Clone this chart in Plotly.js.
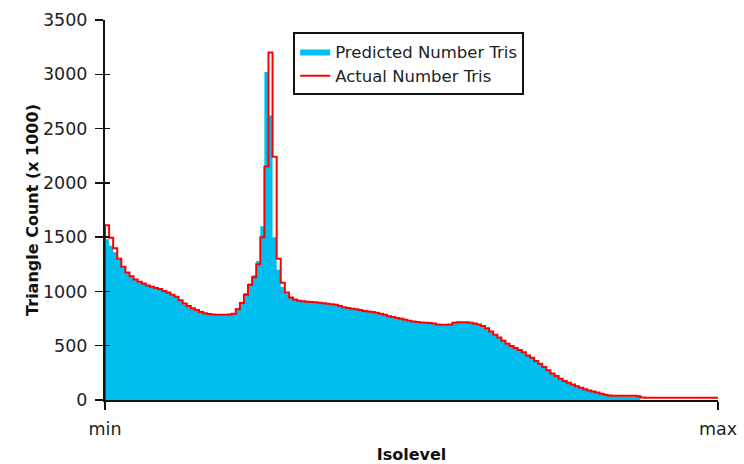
<!DOCTYPE html>
<html>
<head>
<meta charset="utf-8">
<script src="https://cdn.plot.ly/plotly-3.0.1.min.js"></script>
<style>html,body{margin:0;padding:0;background:#fff;}#chart{width:744px;height:464px;}</style>
</head>
<body>
<div id="chart"></div>
<script>
// Isolevel bins from min to max (150 equal bins)
const binCount = 150;
const tickLabels = ['min', 'max'];

// Actual Number Tris (x 1000), one value per bin
const actualTris = [
  1610,1495,1398,1300,1228,1175,1140,1110,1090,1072,
  1055,1042,1032,1022,1005,990,970,950,918,888,
  865,846,828,810,800,792,787,785,785,785,
  787,795,835,893,970,1060,1130,1250,1500,2150,
  3200,2240,1300,1080,990,945,925,915,910,906,
  903,900,895,890,886,882,877,865,855,848,
  840,835,828,820,815,810,803,795,785,772,
  765,755,748,738,730,722,718,714,712,710,
  705,695,692,692,695,712,715,715,715,712,
  705,695,682,660,630,600,575,545,518,498,
  478,460,440,410,388,360,335,305,275,245,
  220,195,175,158,142,127,113,100,88,78,
  68,58,48,42,40,40,40,40,40,38,
  35,22,20,20,20,20,20,20,20,20,
  20,20,20,20,20,20,20,20,20,20
];

// Predicted Number Tris (x 1000), one value per bin
const predictedTris = [
  1480,1420,1360,1290,1220,1170,1135,1105,1085,1068,
  1050,1038,1028,1018,1000,985,965,945,913,883,
  860,842,824,806,796,788,783,781,781,781,
  783,800,845,905,985,1075,1150,1280,1600,3020,
  2620,1500,1200,1040,980,940,920,910,905,902,
  899,896,891,886,882,878,873,861,851,844,
  836,831,824,816,811,806,799,791,781,768,
  761,751,744,734,726,718,714,710,708,706,
  701,691,688,688,691,708,711,711,711,708,
  701,691,678,656,626,596,571,541,514,494,
  474,456,436,406,384,356,331,301,271,241,
  216,191,171,154,138,123,109,96,84,74,
  64,54,44,38,35,35,35,35,32,30,
  28,0,0,0,0,0,0,0,0,0,
  0,0,0,0,0,0,0,0,0,0
];

const edges = [];
for (let i = 0; i <= binCount; i++) edges.push(i);
const stepY = arr => arr.concat([arr[arr.length - 1]]);

const FONT = 'DejaVu Sans, Verdana, sans-serif';

const traces = [
  {
    name: 'Predicted Number Tris',
    x: edges, y: stepY(predictedTris),
    type: 'scatter', mode: 'lines',
    line: {shape: 'hv', width: 0, color: '#00BFEF'},
    fill: 'tozeroy', fillcolor: '#00BFEF',
    hoverinfo: 'skip'
  },
  {
    name: 'Actual Number Tris',
    x: [edges[0]].concat(edges), y: [0].concat(stepY(actualTris)),
    type: 'scatter', mode: 'lines',
    line: {shape: 'hv', width: 2, color: '#FF0000'},
    xaxis: 'x2', yaxis: 'y2',
    hoverinfo: 'skip'
  }
];

const axisCommon = {
  showgrid: false, zeroline: false, fixedrange: true
};

const layout = {
  width: 744, height: 464,
  margin: {l: 105, r: 26, t: 20, b: 64},
  paper_bgcolor: '#fff', plot_bgcolor: '#fff',
  showlegend: true,
  legend: {
    x: 0.307, y: 0.968, xanchor: 'left', yanchor: 'top',
    bordercolor: '#111', borderwidth: 2, bgcolor: '#fff',
    font: {family: FONT, size: 16.5, color: '#222'},
    tracegroupgap: 0, itemwidth: 30
  },
  xaxis: Object.assign({}, axisCommon, {
    range: [0, binCount],
    tickmode: 'array', tickvals: [0, binCount], ticktext: tickLabels,
    ticks: 'outside', ticklen: 8, tickwidth: 1.5, tickcolor: '#111',
    showline: true, linecolor: '#111', linewidth: 2,
    ticklabelstandoff: 4,
    tickfont: {family: FONT, size: 17.5, color: '#222'},
    title: {text: 'Isolevel', font: {family: FONT, size: 16, color: '#111', weight: 'bold'}, standoff: 19}
  }),
  yaxis: Object.assign({}, axisCommon, {
    range: [0, 3500], dtick: 500, tick0: 0,
    ticks: 'outside', ticklen: 8, tickwidth: 1.5, tickcolor: '#111',
    showline: true, linecolor: '#111', linewidth: 2,
    ticklabelstandoff: 4,
    tickfont: {family: FONT, size: 17.5, color: '#222'},
    title: {text: 'Triangle Count (x 1000)', font: {family: FONT, size: 16, color: '#111', weight: 'bold'}, standoff: 0}
  }),
  xaxis2: Object.assign({}, axisCommon, {
    overlaying: 'x', anchor: 'y2', side: 'bottom',
    range: [0, binCount],
    tickmode: 'array', tickvals: [0, binCount],
    ticks: 'inside', ticklen: 5, tickwidth: 1.5, tickcolor: '#111',
    showticklabels: false, showline: false
  }),
  yaxis2: Object.assign({}, axisCommon, {
    overlaying: 'y', anchor: 'x2', side: 'left',
    range: [0, 3500], dtick: 500, tick0: 0,
    ticks: 'inside', ticklen: 5, tickwidth: 1.5, tickcolor: '#111',
    showticklabels: false, showline: false
  })
};

Plotly.newPlot('chart', traces, layout, {displayModeBar: false, staticPlot: true});
</script>
</body>
</html>
